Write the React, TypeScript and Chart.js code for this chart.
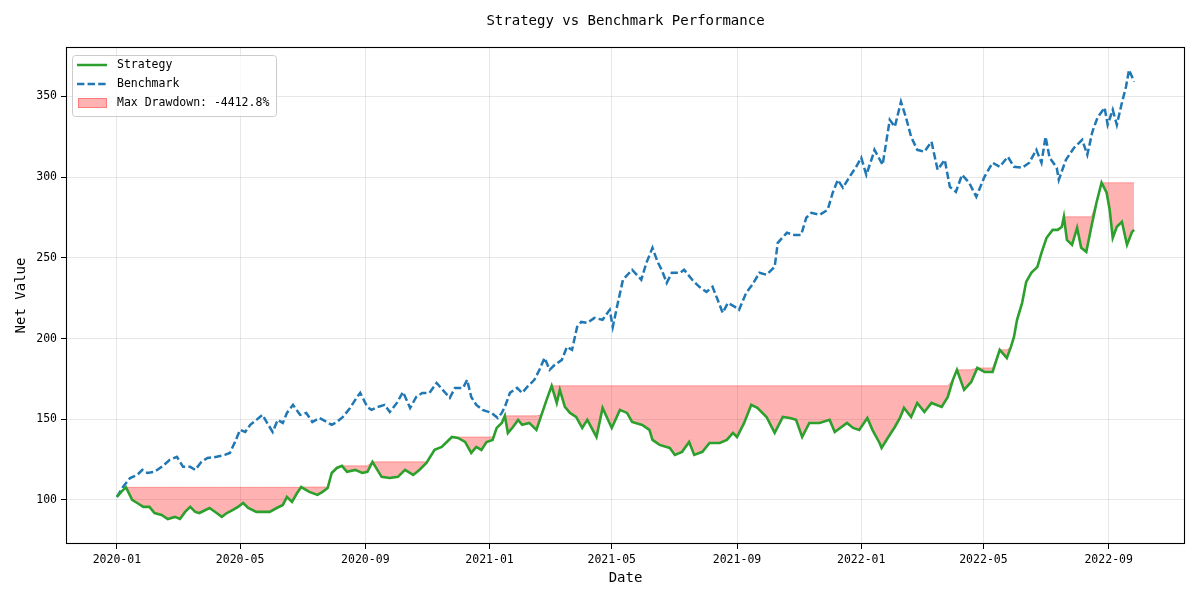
import React, { useEffect, useRef } from 'react';
import { Chart, registerables } from 'chart.js';

Chart.register(...registerables);

// x values are days since 2020-01-01
const strategyDays = [0,5,9,15,20,26,32,37,44,50,57,62,67,72,77,81,91,98,103,108,114,119,124,129,137,143,150,157,163,167,172,177,181,189,197,202,207,211,216,221,226,234,241,246,251,260,268,276,283,291,297,304,312,319,324,329,335,342,348,353,358,363,369,373,378,381,384,389,394,398,405,412,417,422,427,432,435,440,445,451,457,462,471,477,486,494,501,506,516,523,526,533,543,548,555,562,567,575,582,592,599,605,609,616,623,629,638,646,654,661,667,673,680,690,700,705,717,723,729,737,742,749,751,757,764,769,773,780,786,793,800,810,816,821,825,832,839,845,852,860,867,874,878,881,884,889,893,898,904,908,913,919,924,928,930,933,938,943,947,952,957,962,967,972,975,978,982,987,992,997,999];
const strategyValues = [101.9,105.5,107.8,100,98.1,95.7,95.7,91.9,90.7,88.2,89.5,88.2,92.6,95.7,92.6,91.9,95.0,91.9,89.5,91.9,93.8,95.7,98.1,95.0,92.6,92.6,92.6,95.0,96.9,101.9,98.8,104.3,108.0,105.0,103.1,105.0,107.4,116.7,119.8,121.1,117.4,118.6,116.7,117.4,123.6,114.3,113.6,114.3,118.6,115.5,118.6,122.9,131.0,132.8,135.9,139.0,138.4,135.9,129.1,132.8,131.0,135.9,137.2,144.6,147.7,152.1,141.5,145.2,149.6,146.5,147.7,143.4,152.7,162.0,170.7,160.1,168.2,157.6,153.9,151.4,144.6,149.6,139.0,157.0,144.6,155.8,153.9,148.3,146.5,143.4,137.2,134.1,132.2,127.9,129.8,135.9,127.9,129.8,135.3,135.3,137.2,141.5,139.0,147.7,158.9,157.0,151.4,141.5,151.4,150.8,149.6,139.0,147.7,147.7,149.6,142.1,147.7,144.6,143.4,150.8,143.4,135.3,132.2,138.4,145.2,150.8,157.0,151.4,160.1,154.5,160.1,157.6,163.8,174.4,180.6,168.2,173.1,181.8,179.3,179.3,193.0,188.0,194.8,201.0,211.6,222.1,235.1,240.7,244.4,253.1,262.4,267.3,267.3,269.2,275.4,261.1,258.0,268.6,256.2,253.7,269.2,284.1,296.5,290.3,279.7,262.4,269.2,272.3,258.0,266.1,267.3];

const benchmarkDays = [0,6,13,20,25,30,37,44,52,59,65,72,77,83,89,98,106,111,116,121,126,131,137,143,147,153,158,163,167,173,180,186,192,199,206,211,216,222,229,236,239,246,250,256,263,268,275,281,288,294,300,307,314,320,327,332,340,344,348,353,359,368,374,378,381,386,393,398,403,410,415,420,425,430,437,442,447,452,456,462,469,477,484,487,492,497,506,515,520,526,531,535,540,545,553,557,565,572,579,585,590,595,600,607,611,618,624,631,638,646,649,658,665,672,677,682,690,698,703,708,713,719,726,731,736,742,744,752,759,764,770,775,780,786,793,800,806,813,818,824,830,837,844,852,860,867,875,881,889,896,903,908,912,916,923,925,932,940,948,953,958,963,970,973,978,982,987,991,994,999];
const benchmarkValues = [101.9,108.1,113.6,115.5,118.6,116.7,117.4,120.5,124.8,126.7,120.5,120.5,118.6,123.6,126.0,126.7,127.9,129.1,135.9,143.4,142.1,146.5,149.6,152.7,148.3,142.1,149.6,147.7,153.9,158.9,152.7,153.9,148.3,150.8,148.3,146.5,148.3,151.4,157.0,163.8,166.3,157.6,155.8,157.6,158.9,154.5,160.1,166.9,157.0,163.8,166.3,166.3,172.5,168.2,163.2,169.4,169.4,174.4,163.8,158.9,155.8,153.9,150.8,153.9,157.6,166.3,169.4,166.3,170.0,174.4,180.6,188.0,180.6,183.7,186.8,194.8,193.0,207.2,210.3,209.7,212.8,211.6,217.8,207.2,222.1,236.4,242.6,236.4,246.9,256.2,247.5,242.6,234.5,240.7,240.7,242.6,236.4,232.0,228.9,232.0,224.0,215.9,222.1,219.6,217.8,228.3,233.3,240.7,239.5,244.4,259.3,265.5,264.2,264.2,274.8,277.9,276.6,279.7,290.3,298.3,293.4,299.6,306.4,312.0,301.4,312.6,316.9,307.6,335.5,331.2,346.7,336.8,325.0,316.9,315.7,321.9,304.5,310.7,294.0,290.9,301.4,296.5,287.8,300.2,308.9,306.4,312.6,306.4,305.8,308.9,316.9,308.9,325.0,312.0,305.8,298.3,310.7,318.2,323.1,313.8,328.1,336.8,343.0,332.4,341.7,332.4,346.1,356.0,366.5,359.1];

const xTickDays = [0, 121, 244, 366, 486, 609, 731, 851, 974];
const xTickLabels = ['2020-01', '2020-05', '2020-09', '2021-01', '2021-05', '2021-09', '2022-01', '2022-05', '2022-09'];
const yTickValues = [100, 150, 200, 250, 300, 350];

const titleText = 'Strategy vs Benchmark Performance';
const xLabel = 'Date';
const yLabel = 'Net Value';
const legendLabels = ['Strategy', 'Benchmark', 'Max Drawdown: -4412.8%'];

const FONT = '"DejaVu Sans Mono", monospace';
const GREEN = '#2ca02c';
const BLUE = '#1f77b4';
const FILL = 'rgba(255,0,0,0.3)';

const decorPlugin = {
  id: 'decor',
  afterDraw(chart: any) {
    const { ctx, chartArea } = chart;
    const { left, right, top, bottom } = chartArea;
    ctx.save();
    // frame
    ctx.strokeStyle = '#000';
    ctx.lineWidth = 1.1;
    ctx.strokeRect(Math.round(left) + 0.5, Math.round(top) + 0.5, Math.round(right - left) - 1, Math.round(bottom - top) - 1);
    // title
    ctx.fillStyle = '#000';
    ctx.font = `14px ${FONT}`;
    ctx.textAlign = 'center';
    ctx.textBaseline = 'middle';
    ctx.fillText(titleText, (left + right) / 2, 21);
    // legend box
    const bx = 72.5, by = 55.5, bw = 204, bh = 61, r = 3;
    ctx.beginPath();
    ctx.moveTo(bx + r, by);
    ctx.lineTo(bx + bw - r, by);
    ctx.quadraticCurveTo(bx + bw, by, bx + bw, by + r);
    ctx.lineTo(bx + bw, by + bh - r);
    ctx.quadraticCurveTo(bx + bw, by + bh, bx + bw - r, by + bh);
    ctx.lineTo(bx + r, by + bh);
    ctx.quadraticCurveTo(bx, by + bh, bx, by + bh - r);
    ctx.lineTo(bx, by + r);
    ctx.quadraticCurveTo(bx, by, bx + r, by);
    ctx.closePath();
    ctx.fillStyle = 'rgba(255,255,255,0.8)';
    ctx.fill();
    ctx.strokeStyle = '#cccccc';
    ctx.lineWidth = 1;
    ctx.stroke();
    // legend handles
    ctx.lineWidth = 2.5;
    ctx.strokeStyle = GREEN;
    ctx.setLineDash([]);
    ctx.beginPath();
    ctx.moveTo(77, 65);
    ctx.lineTo(107, 65);
    ctx.stroke();
    ctx.strokeStyle = BLUE;
    ctx.setLineDash([7.4, 3.2]);
    ctx.beginPath();
    ctx.moveTo(77, 84);
    ctx.lineTo(107, 84);
    ctx.stroke();
    ctx.setLineDash([]);
    ctx.fillStyle = FILL;
    ctx.fillRect(78, 98, 29, 10);
    ctx.strokeStyle = FILL;
    ctx.lineWidth = 1;
    ctx.strokeRect(78.5, 98.5, 28, 9);
    // legend text
    ctx.fillStyle = '#000';
    ctx.font = `11.5px ${FONT}`;
    ctx.textAlign = 'left';
    ctx.textBaseline = 'middle';
    legendLabels.forEach((t, i) => ctx.fillText(t, 117, 65 + i * 19));
    ctx.restore();
  },
};

export default function App() {
  const ref = useRef<HTMLCanvasElement>(null);
  useEffect(() => {
    document.body.style.margin = '0';
    const strategy = strategyDays.map((d, i) => ({ x: d, y: strategyValues[i] }));
    const benchmark = benchmarkDays.map((d, i) => ({ x: d, y: benchmarkValues[i] }));
    let runMax = -Infinity;
    const peak = strategyDays.map((d, i) => {
      runMax = Math.max(runMax, strategyValues[i]);
      return { x: d, y: runMax };
    });
    const chart = new Chart(ref.current as HTMLCanvasElement, {
      type: 'line',
      data: {
        datasets: [
          {
            label: legendLabels[0],
            data: strategy,
            borderColor: GREEN,
            borderWidth: 2.6,
            pointRadius: 0,
            fill: false,
            order: 0,
          },
          {
            label: legendLabels[1],
            data: benchmark,
            borderColor: BLUE,
            borderWidth: 2.5,
            borderDash: [7.4, 3.2],
            pointRadius: 0,
            fill: false,
            order: 1,
          },
          {
            label: legendLabels[2],
            data: peak,
            borderColor: FILL,
            borderWidth: 1,
            backgroundColor: FILL,
            pointRadius: 0,
            fill: { target: 0 },
            order: 2,
          },
        ],
      },
      options: {
        animation: false,
        responsive: false,
        layout: { padding: { top: 47, right: 15, left: 0, bottom: 0 } },
        plugins: {
          legend: { display: false },
          tooltip: { enabled: false },
          title: { display: false },
        },
        scales: {
          x: {
            type: 'linear',
            min: -49.95,
            max: 1048.95,
            afterBuildTicks: (s: any) => {
              s.ticks = xTickDays.map((v) => ({ value: v }));
            },
            afterFit: (s: any) => {
              s.height = 56;
            },
            ticks: {
              callback: (_v: any, i: number) => xTickLabels[i],
              color: '#000',
              font: { family: FONT, size: 11.5 },
              padding: 4,
              maxRotation: 0,
              autoSkip: false,
            },
            grid: {
              color: 'rgba(176,176,176,0.3)',
              tickColor: '#000',
              tickLength: 5,
            },
            border: { display: false },
            title: {
              display: true,
              text: xLabel,
              color: '#000',
              font: { family: FONT, size: 14 },
              padding: { top: 0, bottom: 13 },
            },
          },
          y: {
            type: 'linear',
            min: 72.7,
            max: 380.6,
            afterBuildTicks: (s: any) => {
              s.ticks = yTickValues.map((v) => ({ value: v }));
            },
            afterFit: (s: any) => {
              s.width = 66;
            },
            ticks: {
              color: '#000',
              font: { family: FONT, size: 11.5 },
              padding: 4,
            },
            grid: {
              color: 'rgba(176,176,176,0.3)',
              tickColor: '#000',
              tickLength: 5,
            },
            border: { display: false },
            title: {
              display: true,
              text: yLabel,
              color: '#000',
              font: { family: FONT, size: 14 },
              padding: { top: 13, bottom: 0 },
            },
          },
        },
      },
      plugins: [decorPlugin],
    } as any);
    return () => chart.destroy();
  }, []);
  return (
    <div style={{ position: 'fixed', left: 0, top: 0, width: 1200, height: 600, background: '#fff' }}>
      <canvas ref={ref} width={1200} height={600} style={{ width: 1200, height: 600 }} />
    </div>
  );
}
